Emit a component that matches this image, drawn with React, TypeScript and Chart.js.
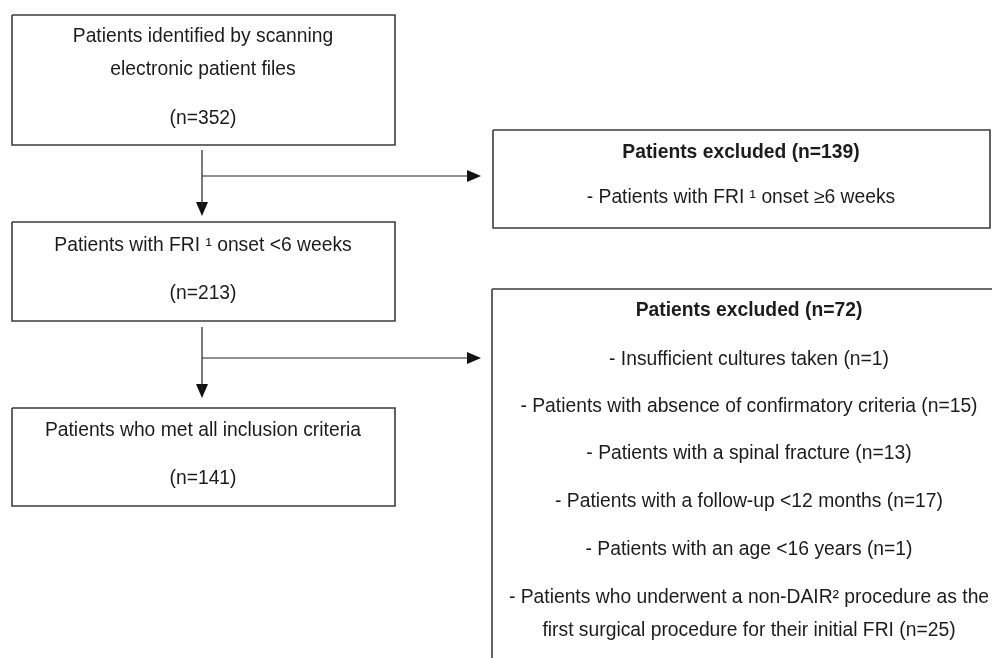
import React, { useEffect, useRef } from "react";
import { Chart, registerables } from "chart.js";

Chart.register(...registerables);

// Layout space of the flow diagram (units of the hidden linear scales)
const SPACE_W = 992;
const SPACE_H = 658;

// Boxes of the flow diagram
const boxNames = ["identified", "excluded139", "onset", "excluded72", "included"];
const boxX0 = [12, 493, 12, 492, 12];
const boxX1 = [395, 990, 395, 1008, 395];
const boxY0 = [15, 130, 222, 289, 408];
const boxY1 = [145, 228, 321, 690, 506];

// Connectors: stem start, split point, down-arrow tip, right-arrow tip
const connX = [202, 202];
const connStartY = [150, 327];
const connBranchY = [176, 358];
const connDownTipY = [216, 398];
const connRightTipX = [481, 481];

// Text lines
const textLines = [
  "Patients identified by scanning",
  "electronic patient files",
  "(n=352)",
  "Patients excluded (n=139)",
  "- Patients with FRI \u00B9 onset \u22656 weeks",
  "Patients with FRI \u00B9 onset <6 weeks",
  "(n=213)",
  "Patients excluded (n=72)",
  "- Insufficient cultures taken (n=1)",
  "- Patients with absence of confirmatory criteria (n=15)",
  "- Patients with a spinal fracture (n=13)",
  "- Patients with a follow-up <12 months (n=17)",
  "- Patients with an age <16 years (n=1)",
  "- Patients who underwent a non-DAIR\u00B2 procedure as the",
  "first surgical procedure for their initial FRI (n=25)",
  "Patients who met all inclusion criteria",
  "(n=141)",
];
const textX = [203, 203, 203, 741, 741, 203, 203, 749, 749, 749, 749, 749, 749, 749, 749, 203, 203];
const textY = [42, 75, 124, 158, 203, 251, 299, 316, 365, 412, 459, 507, 555, 603, 636, 436, 484];
const textBold = [false, false, false, true, false, false, false, true, false, false, false, false, false, false, false, false, false];

const FONT_FAMILY = '"Liberation Sans", Arial, Helvetica, sans-serif';
const FONT_SIZE = 19.3;

function makeArrowHead(): HTMLCanvasElement {
  const c = document.createElement("canvas");
  c.width = 12;
  c.height = 14;
  const g = c.getContext("2d")!;
  g.fillStyle = "#111";
  g.beginPath();
  g.moveTo(0, 0);
  g.lineTo(12, 0);
  g.lineTo(6, 14);
  g.closePath();
  g.fill();
  return c;
}

const textPlugin = {
  id: "flowText",
  afterDatasetsDraw(chart: any) {
    const { ctx, scales } = chart;
    const xs = scales.x;
    const ys = scales.y;
    ctx.save();
    ctx.fillStyle = "#1c1c1c";
    ctx.textAlign = "center";
    ctx.textBaseline = "alphabetic";
    textLines.forEach((t, i) => {
      ctx.font = `${textBold[i] ? "bold " : ""}${FONT_SIZE}px ${FONT_FAMILY}`;
      ctx.fillText(t, xs.getPixelForValue(textX[i]), ys.getPixelForValue(textY[i]));
    });
    ctx.restore();
  },
};

export default function App() {
  const ref = useRef<HTMLCanvasElement | null>(null);

  useEffect(() => {
    document.body.style.margin = "0";
    if (!ref.current) return;
    const arrow = makeArrowHead();
    const datasets: any[] = [];

    boxNames.forEach((name, i) => {
      datasets.push({
        label: name,
        data: [
          { x: boxX0[i], y: boxY0[i] },
          { x: boxX1[i], y: boxY0[i] },
          { x: boxX1[i], y: boxY1[i] },
          { x: boxX0[i], y: boxY1[i] },
          { x: boxX0[i], y: boxY0[i] },
        ],
        showLine: true,
        borderColor: "#3c3c3c",
        borderWidth: 1.6,
        pointRadius: 0,
        tension: 0,
        fill: false,
      });
    });

    connX.forEach((cx, i) => {
      datasets.push({
        label: `stem${i}`,
        data: [
          { x: cx, y: connStartY[i] },
          { x: cx, y: connDownTipY[i] - 8 },
        ],
        showLine: true,
        borderColor: "#222",
        borderWidth: 1.2,
        pointRadius: 0,
      });
      datasets.push({
        label: `branch${i}`,
        data: [
          { x: cx, y: connBranchY[i] },
          { x: connRightTipX[i] - 8, y: connBranchY[i] },
        ],
        showLine: true,
        borderColor: "#222",
        borderWidth: 1.2,
        pointRadius: 0,
      });
      datasets.push({
        label: `downHead${i}`,
        data: [{ x: cx, y: connDownTipY[i] - 7 }],
        showLine: false,
        pointStyle: arrow,
        pointRadius: 7,
        rotation: 0,
      });
      datasets.push({
        label: `rightHead${i}`,
        data: [{ x: connRightTipX[i] - 7, y: connBranchY[i] }],
        showLine: false,
        pointStyle: arrow,
        pointRadius: 7,
        rotation: -90,
      });
    });

    const chart = new Chart(ref.current, {
      type: "scatter",
      data: { datasets },
      options: {
        animation: false,
        responsive: false,
        events: [],
        layout: { padding: 0, autoPadding: false },
        plugins: {
          legend: { display: false },
          tooltip: { enabled: false },
        },
        scales: {
          x: { type: "linear", min: 0, max: SPACE_W, display: false },
          y: { type: "linear", min: 0, max: SPACE_H, reverse: true, display: false },
        },
      },
      plugins: [textPlugin],
    });
    return () => chart.destroy();
  }, []);

  return (
    <div style={{ width: 992, height: 658, background: "#fff", overflow: "hidden" }}>
      <canvas ref={ref} width={992} height={658} style={{ display: "block" }} />
    </div>
  );
}
